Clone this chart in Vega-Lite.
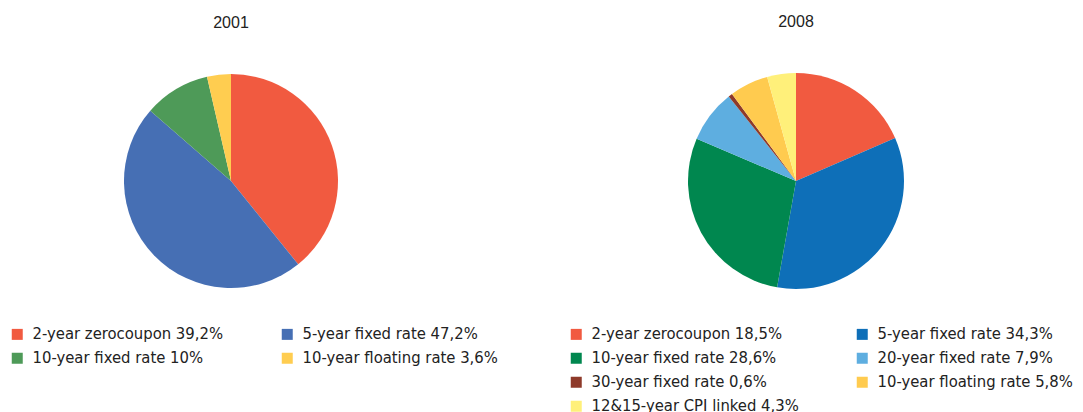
{
  "$schema": "https://vega.github.io/schema/vega-lite/v6.json",
  "padding": {"left": 0, "top": 14, "right": 0, "bottom": 0},
  "background": "white",
  "spacing": 67,
  "config": {
    "view": {"stroke": null},
    "title": {"font": "Liberation Sans", "fontSize": 16, "fontWeight": "normal", "color": "#222222", "anchor": "middle", "offset": 43},
    "legend": {
      "labelFont": "DejaVu Sans Condensed",
      "labelFontSize": 16.5,
      "labelColor": "#222222",
      "symbolType": "square",
      "symbolSize": 121,
      "symbolStrokeWidth": 0,
      "labelOffset": 7,
      "rowPadding": 7,
      "labelLimit": 400,
      "padding": 0,
      "direction": "horizontal"
    }
  },
  "datasets": {
    "y2001": [
      {"cat": "2-year zerocoupon 39,2%", "share": 39.2, "rank": 1},
      {"cat": "5-year fixed rate 47,2%", "share": 47.2, "rank": 2},
      {"cat": "10-year fixed rate 10%", "share": 10.0, "rank": 3},
      {"cat": "10-year floating rate 3,6%", "share": 3.6, "rank": 4}
    ],
    "y2008": [
      {"cat": "2-year zerocoupon 18,5%", "share": 18.5, "rank": 1},
      {"cat": "5-year fixed rate 34,3%", "share": 34.3, "rank": 2},
      {"cat": "10-year fixed rate 28,6%", "share": 28.6, "rank": 3},
      {"cat": "20-year fixed rate 7,9%", "share": 7.9, "rank": 4},
      {"cat": "30-year fixed rate  0,6%", "share": 0.6, "rank": 5},
      {"cat": "10-year floating rate 5,8%", "share": 5.8, "rank": 6},
      {"cat": "12&15-year CPI linked 4,3%", "share": 4.3, "rank": 7}
    ]
  },
  "hconcat": [
    {
      "title": "2001",
      "width": 462,
      "height": 214,
      "data": {"name": "y2001"},
      "mark": {"type": "arc", "radius": 107},
      "encoding": {
        "theta": {"field": "share", "type": "quantitative", "stack": true},
        "order": {"field": "rank", "type": "quantitative"},
        "color": {
          "field": "cat",
          "type": "nominal",
          "scale": {
            "domain": ["2-year zerocoupon 39,2%", "5-year fixed rate 47,2%", "10-year fixed rate 10%", "10-year floating rate 3,6%"],
            "range": ["#F15A40", "#466FB4", "#4E9A58", "#FFCD50"]
          },
          "legend": {"title": null, "orient": "none", "direction": "horizontal", "legendX": 9, "legendY": 252, "columns": 2, "columnPadding": 55}
        }
      }
    },
    {
      "title": "2008",
      "width": 462,
      "height": 214,
      "data": {"name": "y2008"},
      "mark": {"type": "arc", "radius": 108},
      "encoding": {
        "theta": {"field": "share", "type": "quantitative", "stack": true},
        "order": {"field": "rank", "type": "quantitative"},
        "color": {
          "field": "cat",
          "type": "nominal",
          "scale": {
            "domain": ["2-year zerocoupon 18,5%", "5-year fixed rate 34,3%", "10-year fixed rate 28,6%", "20-year fixed rate 7,9%", "30-year fixed rate  0,6%", "10-year floating rate 5,8%", "12&15-year CPI linked 4,3%"],
            "range": ["#F15A40", "#0E6FB8", "#00874F", "#5EAEE0", "#8E3A2A", "#FFCB4F", "#FFF07A"]
          },
          "legend": {"title": null, "orient": "none", "direction": "horizontal", "legendX": 3, "legendY": 252, "columns": 2, "columnPadding": 55}
        }
      }
    }
  ],
  "resolve": {"scale": {"color": "independent", "theta": "independent"}}
}
